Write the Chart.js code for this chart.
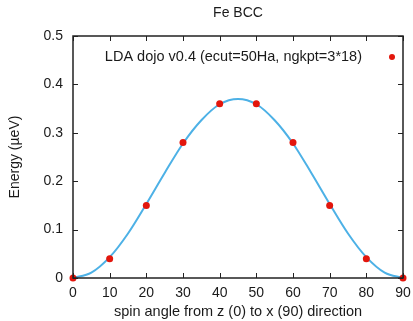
<!DOCTYPE html>
<html>
<head>
<meta charset="utf-8">
<script src="https://cdn.jsdelivr.net/npm/chart.js@4/dist/chart.umd.min.js"></script>
<style>
  html, body { margin: 0; padding: 0; background: #fff; }
  #wrap { width: 413px; height: 321px; }
</style>
</head>
<body>
<div id="wrap"><canvas id="chart" width="413" height="321"></canvas></div>
<script>
// measured points
const angles = [0, 10, 20, 30, 40, 50, 60, 70, 80, 90]
const energies = [0, 0.04, 0.15, 0.28, 0.36, 0.36, 0.28, 0.15, 0.04, 0]

// fitted curve, every 5 degrees
const fitAngles = [0, 5, 10, 15, 20, 25, 30, 35, 40, 45, 50, 55, 60, 65, 70, 75, 80, 85, 90]
const fitEnergies = [0, 0.011, 0.043, 0.092, 0.153, 0.217, 0.278, 0.326, 0.359, 0.37,
    0.359, 0.326, 0.278, 0.217, 0.153, 0.092, 0.043, 0.011, 0]

const xTicks = [0, 10, 20, 30, 40, 50, 60, 70, 80, 90]
const yTicks = [0, 0.1, 0.2, 0.3, 0.4, 0.5]

const legendText = 'LDA dojo v0.4 (ecut=50Ha, ngkpt=3*18)'
const fontFamily = '"Liberation Sans", Arial, sans-serif'
const textColor = '#1a1a1a'
const red = '#e3160c'
const blue = '#4db1e6'

// gnuplot style frame with inward ticks on all four sides
const framePlugin = {
    id: 'frame',
    afterDatasetsDraw(chart) {
        const ctx = chart.ctx
        const a = chart.chartArea
        const xs = chart.scales.x
        const ys = chart.scales.y
        ctx.save()
        ctx.strokeStyle = '#222'
        ctx.lineWidth = 1
        ctx.beginPath()
        xs.ticks.forEach(t => {
            let px = Math.round(xs.getPixelForValue(t.value)) + 0.5
            ctx.moveTo(px, a.bottom); ctx.lineTo(px, a.bottom - 5)
            ctx.moveTo(px, a.top); ctx.lineTo(px, a.top + 5)
        })
        ys.ticks.forEach(t => {
            let py = Math.round(ys.getPixelForValue(t.value)) + 0.5
            ctx.moveTo(a.left, py); ctx.lineTo(a.left + 5, py)
            ctx.moveTo(a.right, py); ctx.lineTo(a.right - 5, py)
        })
        ctx.stroke()
        ctx.lineWidth = 1.5
        ctx.strokeRect(a.left, a.top, a.right - a.left, a.bottom - a.top)
        ctx.restore()
    },
    afterDraw(chart) {
        const ctx = chart.ctx
        const a = chart.chartArea
        ctx.save()
        ctx.font = '14.5px ' + fontFamily
        ctx.fillStyle = textColor
        ctx.textAlign = 'right'
        ctx.textBaseline = 'middle'
        ctx.fillText(legendText, a.right - 41, a.top + 21)
        ctx.fillStyle = red
        ctx.beginPath()
        ctx.arc(a.right - 11, a.top + 21, 3, 0, Math.PI * 2)
        ctx.fill()
        ctx.restore()
    }
}

const data = {
    datasets: [{
            label: 'fit',
            data: fitAngles.map((x, i) => ({x: x, y: fitEnergies[i]})),
            showLine: true,
            borderColor: blue,
            borderWidth: 2,
            pointRadius: 0,
            cubicInterpolationMode: 'monotone',
            order: 2
        }, {
            label: legendText,
            data: angles.map((x, i) => ({x: x, y: energies[i]})),
            backgroundColor: red,
            borderColor: red,
            pointRadius: 3.5,
            borderWidth: 0,
            clip: false,
            order: 1
        }]
}

const config = {
    type: 'scatter',
    data: data,
    options: {
        responsive: false,
        animation: false,
        layout: {padding: {left: 0, right: 10, top: 0, bottom: 0}},
        plugins: {
            legend: {display: false},
            tooltip: {enabled: false},
            title: {
                display: true,
                text: 'Fe BCC',
                fullSize: false,
                color: textColor,
                font: {family: fontFamily, size: 14, weight: 'normal'},
                padding: {top: 5, bottom: 14.2}
            }
        },
        scales: {
            x: {
                type: 'linear',
                min: 0,
                max: 90,
                afterBuildTicks: s => { s.ticks = xTicks.map(v => ({value: v})) },
                afterFit: s => { s.height = 43; s.paddingLeft = 0; s.paddingRight = 0 },
                grid: {display: false, drawTicks: false},
                border: {display: false},
                ticks: {color: textColor, font: {family: fontFamily, size: 14}, padding: 7, maxRotation: 0},
                title: {display: true, text: 'spin angle from z (0) to x (90) direction', color: textColor,
                    font: {family: fontFamily, size: 14.5}, padding: {top: 0, bottom: 0}}
            },
            y: {
                type: 'linear',
                min: 0,
                max: 0.5,
                afterBuildTicks: s => { s.ticks = yTicks.map(v => ({value: v})) },
                afterFit: s => { s.width = 73; s.paddingTop = 0; s.paddingBottom = 0 },
                grid: {display: false, drawTicks: false},
                border: {display: false},
                ticks: {color: textColor, font: {family: fontFamily, size: 14}, padding: 10},
                title: {display: true, text: 'Energy (µeV)', color: textColor,
                    font: {family: fontFamily, size: 14}, padding: {top: 7, bottom: 0}}
            }
        }
    },
    plugins: [framePlugin]
}

new Chart(document.getElementById('chart').getContext('2d'), config)
</script>
</body>
</html>
